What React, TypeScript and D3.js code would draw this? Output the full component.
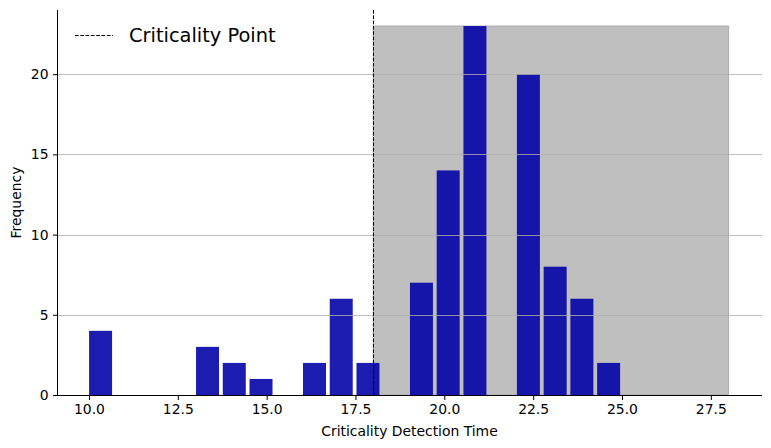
import { useEffect, useRef } from "react";
import * as d3 from "d3";

// histogram bins: 20 equal bins spanning the data range (~9.95 to ~25.0)
const binStart = 9.95;
const binWidth = 0.7525;
const counts = [4, 0, 0, 0, 3, 2, 1, 0, 2, 6, 2, 0, 7, 14, 23, 0, 20, 8, 6, 2];
const xTicks = [10, 12.5, 15, 17.5, 20, 22.5, 25, 27.5];
const yTicks = [0, 5, 10, 15, 20];
const criticalityPoint = 18;
const spanEnd = 28;
const spanTop = 23;

const App = () => {
  const ref = useRef<SVGSVGElement>(null);

  useEffect(() => {
    const svg = d3.select(ref.current);
    svg.selectAll("*").remove();

    const left = 57;
    const right = 762;
    const top = 10;
    const bottom = 395;

    const x = d3.scaleLinear().domain([9.1, 28.94]).range([left, right]);
    const y = d3.scaleLinear().domain([0, 24]).range([bottom, top]);
    const font = "DejaVu Sans, sans-serif";
    const fs = 13.9;
    const rwidth = 0.86;

    // shaded region after the criticality point
    svg
      .append("rect")
      .attr("x", x(criticalityPoint))
      .attr("y", y(spanTop))
      .attr("width", x(spanEnd) - x(criticalityPoint))
      .attr("height", y(0) - y(spanTop))
      .attr("fill", "#bfbfbf")
      .attr("stroke", "#adadad")
      .attr("stroke-width", 1);

    // bars
    const bins = counts.map((c, i) => ({ x0: binStart + i * binWidth, c }));
    svg
      .append("g")
      .selectAll("rect")
      .data(bins.filter((b) => b.c > 0))
      .enter()
      .append("rect")
      .attr("x", (d) => x(d.x0 + (binWidth * (1 - rwidth)) / 2))
      .attr("width", x(binWidth * rwidth) - x(0))
      .attr("y", (d) => y(d.c))
      .attr("height", (d) => y(0) - y(d.c))
      .attr("fill", "rgb(0,0,166)")
      .attr("fill-opacity", 0.89);

    // grid
    svg
      .append("g")
      .selectAll("line")
      .data(yTicks)
      .enter()
      .append("line")
      .attr("x1", left)
      .attr("x2", right)
      .attr("y1", (d) => Math.round(y(d)) + 0.5)
      .attr("y2", (d) => Math.round(y(d)) + 0.5)
      .attr("stroke", "#b0b0b0")
      .attr("stroke-opacity", 0.8)
      .attr("stroke-width", 1);

    // criticality line
    svg
      .append("line")
      .attr("x1", Math.round(x(criticalityPoint)) + 0.5)
      .attr("x2", Math.round(x(criticalityPoint)) + 0.5)
      .attr("y1", top)
      .attr("y2", bottom)
      .attr("stroke", "black")
      .attr("stroke-width", 1)
      .attr("stroke-dasharray", "3.7,1.6");

    // axes
    const xAxis = svg
      .append("g")
      .attr("transform", `translate(0,${bottom + 0.5})`)
      .call(
        d3
          .axisBottom(x)
          .tickValues(xTicks)
          .tickFormat(d3.format(".1f"))
          .tickSizeOuter(0)
          .tickSize(4.5)
          .tickPadding(4.5)
      );
    const yAxis = svg
      .append("g")
      .attr("transform", `translate(${left + 0.5},0)`)
      .call(
        d3
          .axisLeft(y)
          .tickValues(yTicks)
          .tickFormat(d3.format("d"))
          .tickSizeOuter(0)
          .tickSize(4.5)
          .tickPadding(4.5)
      );
    [xAxis, yAxis].forEach((a) => {
      a.attr("font-family", font).attr("font-size", fs);
      a.selectAll("text").attr("fill", "#000");
      a.selectAll("line").attr("stroke", "#000");
      a.select(".domain").attr("stroke", "#000");
    });
    yAxis.select(".domain").attr("d", `M0,${top}V${bottom + 0.5}`);
    xAxis.select(".domain").attr("d", `M${left},0H${right}`);

    svg
      .append("text")
      .attr("x", (left + right) / 2)
      .attr("y", 436)
      .attr("text-anchor", "middle")
      .attr("font-family", font)
      .attr("font-size", fs)
      .text("Criticality Detection Time");

    svg
      .append("text")
      .attr("transform", `translate(21,${(top + bottom) / 2}) rotate(-90)`)
      .attr("text-anchor", "middle")
      .attr("font-family", font)
      .attr("font-size", fs)
      .text("Frequency");

    // legend
    svg
      .append("line")
      .attr("x1", 75)
      .attr("x2", 113)
      .attr("y1", 35.5)
      .attr("y2", 35.5)
      .attr("stroke", "black")
      .attr("stroke-width", 1)
      .attr("stroke-dasharray", "3.7,1.6");
    svg
      .append("text")
      .attr("x", 129)
      .attr("y", 42)
      .attr("font-family", font)
      .attr("font-size", 19.4)
      .text("Criticality Point");
  }, []);

  return <svg ref={ref} width={771} height={448} style={{ position: "absolute", left: 0, top: 0 }} />;
};

export default App;
